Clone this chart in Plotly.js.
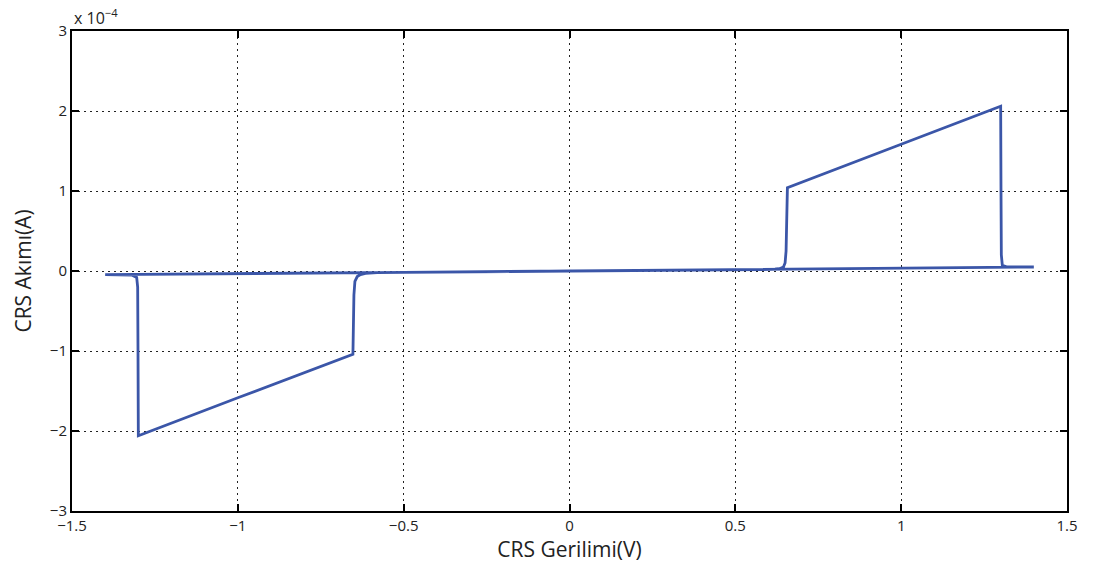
<!DOCTYPE html>
<html>
<head>
<meta charset="utf-8">
<script src="https://cdn.plot.ly/plotly-3.0.1.min.js"></script>
<style>html,body{margin:0;padding:0;background:#fff}#chart{width:1095px;height:568px}</style>
</head>
<body>
<div id="chart"></div>
<script>
// CRS voltage sweep (V)
const voltage = [
  0, 0.3, 0.5, 0.58, 0.62, 0.635, 0.645, 0.65, 0.653, 0.655, 0.657, 1.0, 1.3,
  1.301, 1.302, 1.305, 1.32, 1.4, 1.0, 0.5, 0,
  -0.3, -0.5, -0.58, -0.615, -0.63, -0.64, -0.647, -0.65, -0.653, -1.0, -1.3,
  -1.301, -1.302, -1.305, -1.32, -1.4, -1.0, -0.5, 0
];
// CRS current, in units of 1e-4 A
const currentE4 = [
  0, 0.005, 0.012, 0.016, 0.022, 0.03, 0.05, 0.1, 0.25, 0.6, 1.04, 1.585, 2.06,
  1.0, 0.2, 0.07, 0.05, 0.05, 0.035, 0.018, 0,
  -0.005, -0.012, -0.02, -0.03, -0.045, -0.07, -0.13, -0.3, -1.04, -1.585, -2.06,
  -1.0, -0.2, -0.08, -0.05, -0.045, -0.035, -0.018, 0
];
const xTicks = [-1.5, -1, -0.5, 0, 0.5, 1, 1.5];
const yTicks = [-3, -2, -1, 0, 1, 2, 3];

const font = "Open Sans, Liberation Sans, sans-serif";
const axisCommon = {
  showline: true, linecolor: '#000', linewidth: 2, mirror: 'allticks',
  ticks: 'inside', ticklen: 7, tickwidth: 2, tickcolor: '#000',
  showgrid: true, gridcolor: '#222', griddash: '1.5px,4.5px', gridwidth: 1,
  zeroline: false, tickfont: {family: font, size: 15, color: '#222'}
};
const layout = {
  width: 1095, height: 568,
  margin: {l: 72, r: 28, t: 31, b: 57},
  paper_bgcolor: '#fff', plot_bgcolor: '#fff',
  showlegend: false,
  xaxis: Object.assign({}, axisCommon, {
    range: [-1.5, 1.5], tickvals: xTicks,
    title: {text: 'CRS Gerilimi(V)', font: {family: font, size: 21, color: '#222'}, standoff: 3}
  }),
  yaxis: Object.assign({}, axisCommon, {
    range: [-3, 3], tickvals: yTicks,
    title: {text: 'CRS Akımı(A)', font: {family: font, size: 21, color: '#222'}, standoff: 12}
  }),
  annotations: [{
    xref: 'paper', yref: 'paper', x: 0, y: 1, xanchor: 'left', yanchor: 'bottom',
    yshift: 0, text: 'x 10<sup>−4</sup>', showarrow: false,
    font: {family: font, size: 16, color: '#222'}
  }]
};
Plotly.newPlot('chart', [{
  x: voltage, y: currentE4, type: 'scatter', mode: 'lines',
  line: {color: '#3b56a8', width: 2.8}
}], layout, {displayModeBar: false, staticPlot: true});
</script>
</body>
</html>
